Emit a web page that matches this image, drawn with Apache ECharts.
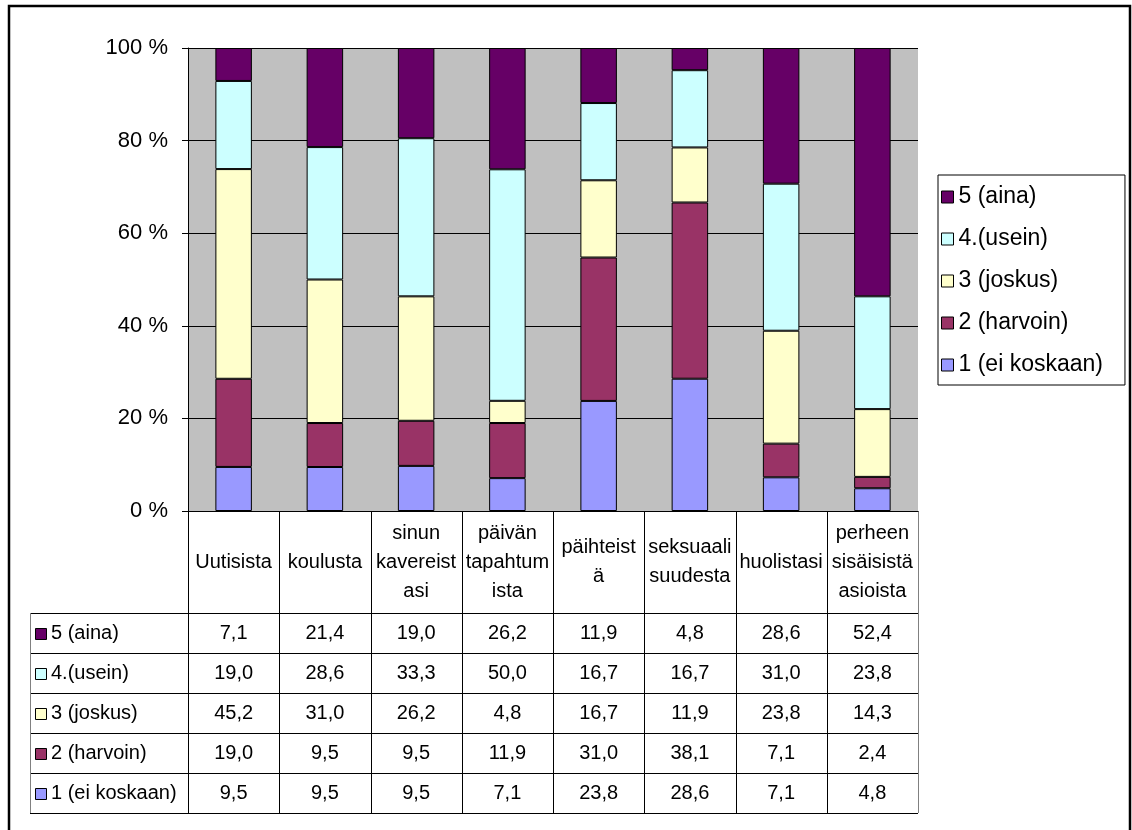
<!DOCTYPE html>
<html><head><meta charset="utf-8">
<script src="https://cdn.jsdelivr.net/npm/echarts@6/dist/echarts.min.js"></script>
<style>html,body{margin:0;padding:0;background:#fff}#c{width:1132px;height:830px}</style>
</head><body><div id="c"></div>
<script>
// ---- data ----
const categories = ['Uutisista','koulusta','sinun\nkavereist\nasi','päivän\ntapahtum\nista','päihteist\nä','seksuaali\nsuudesta','huolistasi','perheen\nsisäisistä\nasioista'];
const seriesNames = ['1 (ei koskaan)','2 (harvoin)','3 (joskus)','4.(usein)','5 (aina)'];
const s1 = [9.5, 9.5, 9.5, 7.1, 23.8, 28.6, 7.1, 4.8];
const s2 = [19.0, 9.5, 9.5, 11.9, 31.0, 38.1, 7.1, 2.4];
const s3 = [45.2, 31.0, 26.2, 4.8, 16.7, 11.9, 23.8, 14.3];
const s4 = [19.0, 28.6, 33.3, 50.0, 16.7, 16.7, 31.0, 23.8];
const s5 = [7.1, 21.4, 19.0, 26.2, 11.9, 4.8, 28.6, 52.4];
const yTickMax = 100, yTickStep = 20;
const colors = ['#9999FF','#993366','#FFFFCC','#CCFFFF','#660066'];

// ---- layout ----
const FONT = '"Liberation Sans", Arial, sans-serif';
const gridLeft = 188, gridTop = 48, gridW = 730, gridH = 463;
const colW = gridW / categories.length;
const tableLeft = 30, headerBottom = 613, rowH = 40;

const seriesData = [s1, s2, s3, s4, s5];
const sums = categories.map((_, i) => seriesData.reduce((a, s) => a + s[i], 0));
const shares = seriesData.map(s => s.map((v, i) => v / sums[i] * 100));

const chart = echarts.init(document.getElementById('c'), null, {renderer: 'canvas'});

const graphics = [];
// outer border
graphics.push({type: 'rect', silent: true, shape: {x: 9, y: 6, width: 1121, height: 830},
  style: {fill: 'none', stroke: '#000', lineWidth: 2.5}});
const gridBottom = gridTop + gridH;
// header texts
categories.forEach((c, i) => {
  graphics.push({type: 'text', silent: true, style: {
    text: c, x: gridLeft + colW * (i + 0.5), y: (gridBottom + headerBottom) / 2,
    fill: '#000', font: '20px ' + FONT, fontSize: 20, fontFamily: FONT,
    textAlign: 'center', align: 'center', textVerticalAlign: 'middle', verticalAlign: 'middle', lineHeight: 29
  }});
});
// rows (top to bottom: 5..1)
for (let r = 0; r < 5; r++) {
  const si = 4 - r;
  const cy = headerBottom + rowH * r + rowH / 2;
  graphics.push({type: 'rect', silent: true, shape: {x: 35.5, y: Math.round(cy - 5) + 0.5, width: 11, height: 11},
    style: {fill: colors[si], stroke: '#000', lineWidth: 1}});
  graphics.push({type: 'text', silent: true, style: {
    text: seriesNames[si], x: 51, y: cy, fill: '#000', font: '20px ' + FONT, fontSize: 20, fontFamily: FONT,
    textAlign: 'left', align: 'left', textVerticalAlign: 'middle', verticalAlign: 'middle'
  }});
  seriesData[si].forEach((v, i) => {
    graphics.push({type: 'text', silent: true, style: {
      text: v.toFixed(1).replace('.', ','), x: gridLeft + colW * (i + 0.5), y: cy,
      fill: '#000', font: '20px ' + FONT, fontSize: 20, fontFamily: FONT,
      textAlign: 'center', align: 'center', textVerticalAlign: 'middle', verticalAlign: 'middle'
    }});
  });
}
// table lines
for (let r = 0; r <= 5; r++) {
  const y = headerBottom + rowH * r + 0.5;
  graphics.push({type: 'line', silent: true, shape: {x1: tableLeft, y1: y, x2: gridLeft + gridW, y2: y},
    style: {stroke: '#000', lineWidth: 1}});
}
graphics.push({type: 'line', silent: true, shape: {x1: tableLeft + 0.5, y1: headerBottom, x2: tableLeft + 0.5, y2: headerBottom + rowH * 5},
  style: {stroke: '#808080', lineWidth: 1}});
for (let k = 0; k <= categories.length; k++) {
  const x = Math.round(gridLeft + colW * k) + 0.5;
  graphics.push({type: 'line', silent: true, shape: {x1: x, y1: gridBottom, x2: x, y2: headerBottom + rowH * 5},
    style: {stroke: (k === categories.length) ? '#808080' : '#000', lineWidth: 1}});
}

chart.setOption({
  animation: false,
  backgroundColor: '#fff',
  textStyle: {fontFamily: FONT},
  grid: {left: gridLeft, top: gridTop, width: gridW, height: gridH, show: true,
    backgroundColor: '#C0C0C0', borderWidth: 0},
  legend: {
    data: seriesNames.slice().reverse(), orient: 'vertical', left: 938, top: 175,
    itemWidth: 12, itemHeight: 12, itemGap: 18, icon: 'rect', selectedMode: false,
    padding: [10, 22, 8, 3], borderColor: '#000', borderWidth: 1, backgroundColor: '#fff',
    itemStyle: {borderColor: '#000', borderWidth: 1},
    textStyle: {fontSize: 23, color: '#000', fontFamily: FONT, lineHeight: 24}
  },
  xAxis: {type: 'category', data: categories, axisLabel: {show: false}, axisTick: {show: false},
    axisLine: {show: true, lineStyle: {color: '#000', width: 1}}, splitLine: {show: false}},
  yAxis: {type: 'value', min: 0, max: yTickMax, interval: yTickStep,
    axisLabel: {formatter: v => v + ' %', fontSize: 22, color: '#000', fontFamily: FONT, margin: 20},
    axisTick: {show: true, length: 6, lineStyle: {color: '#000'}},
    axisLine: {show: true, lineStyle: {color: '#000', width: 1}},
    splitLine: {show: true, lineStyle: {color: '#000', width: 1}}},
  series: shares.map((d, k) => ({
    name: seriesNames[k], type: 'bar', stack: 'total', data: d, barWidth: '40%',
    itemStyle: {color: colors[k], borderColor: '#000', borderWidth: 1}
  })),
  graphic: graphics
});
</script></body></html>
